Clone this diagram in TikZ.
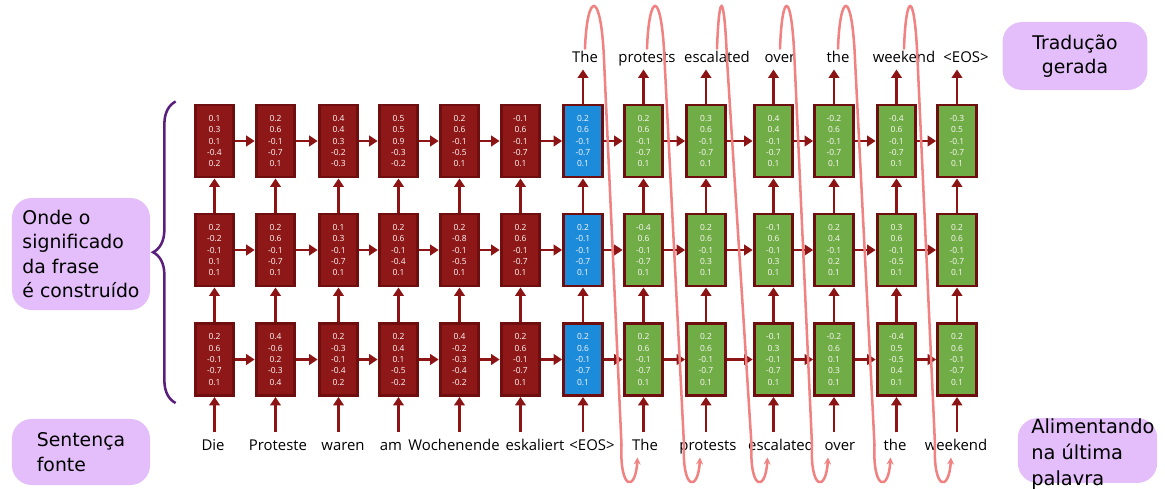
\documentclass[tikz,border=0pt]{standalone}
\usepackage{fontspec}
\newfontfamily\wordfont{Open Sans}
\newfontfamily\labfont{DejaVu Sans}
\usetikzlibrary{arrows.meta,calc,decorations.pathreplacing}
\definecolor{encred}{RGB}{142,24,24}
\definecolor{rim}{RGB}{110,14,14}
\definecolor{midblue}{RGB}{28,140,218}
\definecolor{grass}{RGB}{112,173,71}
\definecolor{wire}{RGB}{140,20,20}
\definecolor{coral}{RGB}{240,130,130}
\definecolor{lilac}{RGB}{228,190,250}
\definecolor{plum}{RGB}{90,30,125}
\tikzset{
  cell/.style={draw=rim,fill=#1,line width=2.1pt,minimum width=0.97cm,minimum height=1.8cm,
    inner sep=0pt,align=center,text=white!90!pink,font=\wordfont\fontsize{6}{8.1}\selectfont},
  cell/.default=encred,
  link/.style={-{Triangle[length=6pt,width=7.5pt]},line width=2.1pt,draw=wire},
  word/.style={font=\wordfont\fontsize{10.6}{12}\selectfont,text height=8pt,text depth=2.5pt,inner sep=2pt},
  note/.style={fill=lilac,rounded corners=14pt,align=left,font=\labfont\fontsize{13.4}{17.5}\selectfont},
  feed/.style={-{Stealth[length=5pt,width=5pt]},line width=1.8pt,draw=coral,line cap=round},
}
\begin{document}
\begin{tikzpicture}[x=0.025cm,y=-0.025cm]
  \useasboundingbox (0,0) rectangle (1165,488);
  % three stacked layers, one column per word
  \foreach \c/\x/\k/\ra/\rb/\rc in {
    1/214.5/encred/{0.1\\0.3\\0.1\\-0.4\\0.2}/{0.2\\-0.2\\-0.1\\0.1\\0.1}/{0.2\\0.6\\-0.1\\-0.7\\0.1},
    2/275.5/encred/{0.2\\0.6\\-0.1\\-0.7\\0.1}/{0.2\\0.6\\-0.1\\-0.7\\0.1}/{0.4\\-0.6\\0.2\\-0.3\\0.4},
    3/338.5/encred/{0.4\\0.4\\0.3\\-0.2\\-0.3}/{0.1\\0.3\\-0.1\\-0.7\\0.1}/{0.2\\-0.3\\-0.1\\-0.4\\0.2},
    4/398.5/encred/{0.5\\0.5\\0.9\\-0.3\\-0.2}/{0.2\\0.6\\-0.1\\-0.4\\0.1}/{0.2\\0.4\\0.1\\-0.5\\-0.2},
    5/459.5/encred/{0.2\\0.6\\-0.1\\-0.5\\0.1}/{0.2\\-0.8\\-0.1\\-0.5\\0.1}/{0.4\\-0.2\\-0.3\\-0.4\\-0.2},
    6/520.5/encred/{-0.1\\0.6\\-0.1\\-0.7\\0.1}/{0.2\\0.6\\-0.1\\-0.7\\0.1}/{0.2\\0.6\\-0.1\\-0.7\\0.1},
    7/583/midblue/{0.2\\0.6\\-0.1\\-0.7\\0.1}/{0.2\\-0.1\\-0.1\\-0.7\\0.1}/{0.2\\0.6\\-0.1\\-0.7\\0.1},
    8/643.5/grass/{0.2\\0.6\\-0.1\\-0.7\\0.1}/{-0.4\\0.6\\-0.1\\-0.7\\0.1}/{0.2\\0.6\\-0.1\\-0.7\\0.1},
    9/706/grass/{0.3\\0.6\\-0.1\\-0.7\\0.1}/{0.2\\0.6\\-0.1\\0.3\\0.1}/{0.2\\0.6\\-0.1\\-0.7\\0.1},
    10/773.5/grass/{0.4\\0.4\\-0.1\\-0.7\\0.1}/{-0.1\\0.6\\-0.1\\0.3\\0.1}/{-0.1\\0.3\\-0.1\\-0.7\\0.1},
    11/834/grass/{-0.2\\0.6\\-0.1\\-0.7\\0.1}/{0.2\\0.4\\-0.1\\0.2\\0.1}/{-0.2\\0.6\\0.1\\0.3\\0.1},
    12/896.5/grass/{-0.4\\0.6\\-0.1\\-0.7\\0.1}/{0.3\\0.6\\-0.1\\-0.5\\0.1}/{-0.4\\0.5\\-0.5\\0.4\\0.1},
    13/957/grass/{-0.3\\0.5\\-0.1\\-0.7\\0.1}/{0.2\\0.6\\-0.1\\-0.7\\0.1}/{0.2\\0.6\\-0.1\\-0.7\\0.1}}{
    \node[cell=\k] (t\c) at (\x,141) {\ra};
    \node[cell=\k] (m\c) at (\x,250) {\rb};
    \node[cell=\k] (b\c) at (\x,359.5) {\rc};
  }
  % input and output words
  \foreach \c/\x/\w in {1/213/Die,2/278/Proteste,3/343/waren,4/391/am,5/454/Wochenende,
    6/535/eskaliert,7/592/{<EOS>},8/645/The,9/708/protests,10/781/escalated,11/840/over,
    12/895/the,13/956/weekend}
    \node[word] (i\c) at (\x,447) {\w};
  \foreach \c/\x/\w in {7/585/The,8/647/protests,9/717/escalated,10/780/over,11/838/the,
    12/904/weekend,13/966/{<EOS>}}
    \node[word] (o\c) at (\x,59) {\w};
  % arrows
  \foreach \c [count=\n from 2] in {1,...,12} {
    \draw[link] (t\c) -- (t\n);
    \draw[link] (m\c) -- (m\n);
    \draw[link] (b\c) -- (b\n);
  }
  \foreach \c in {1,...,13} {
    \draw[link] (b\c) -- (m\c);
    \draw[link] (m\c) -- (t\c);
    \draw[link,shorten <=3pt] (b\c |- i\c.north) -- (b\c);
  }
  \foreach \c in {7,...,13}
    \draw[link] (t\c) -- (t\c |- o\c.south);
  % feeding the last word back in
  \foreach \c/\n in {7/8,8/9,9/10,10/11,11/12,12/13}
    \draw[feed] (o\c.north) .. controls +(2,-56) and +(-3,-72) .. ($(t\c.north)+(21,-44)$)
      -- ($(b\n.south)+(-22,48)$) .. controls +(-2,45) and +(-2,35) .. ($(b\n |- i\n.south)+(-6,0)$);
  % brace and notes
  \draw[plum,line width=1.8pt,decorate,decoration={brace,amplitude=16pt}]
    ($(b1.south west)+(-18,6)$) -- ($(t1.north west)+(-18,-2)$);
  \node[note,minimum width=3.45cm,minimum height=2.8cm] (meaning) at (81,254) {Onde o\\significado\\da frase\\é construído};
  \node[note,minimum width=3.45cm,minimum height=1.65cm] (source) at (81,452) {Sentença\\fonte};
  \node[note,align=center,minimum width=3.62cm,minimum height=1.7cm] (target) at (1075,56) {Tradução\\gerada};
  \node[note,minimum width=3.48cm,minimum height=1.62cm] (feedbox) at (1087.5,450.5) {};
  \node[font=\labfont\fontsize{13.8}{18.4}\selectfont,align=left,anchor=west,inner sep=0pt] (feedtxt) at (1031,454) {Alimentando\\na última\\palavra};
\end{tikzpicture}
\end{document}
